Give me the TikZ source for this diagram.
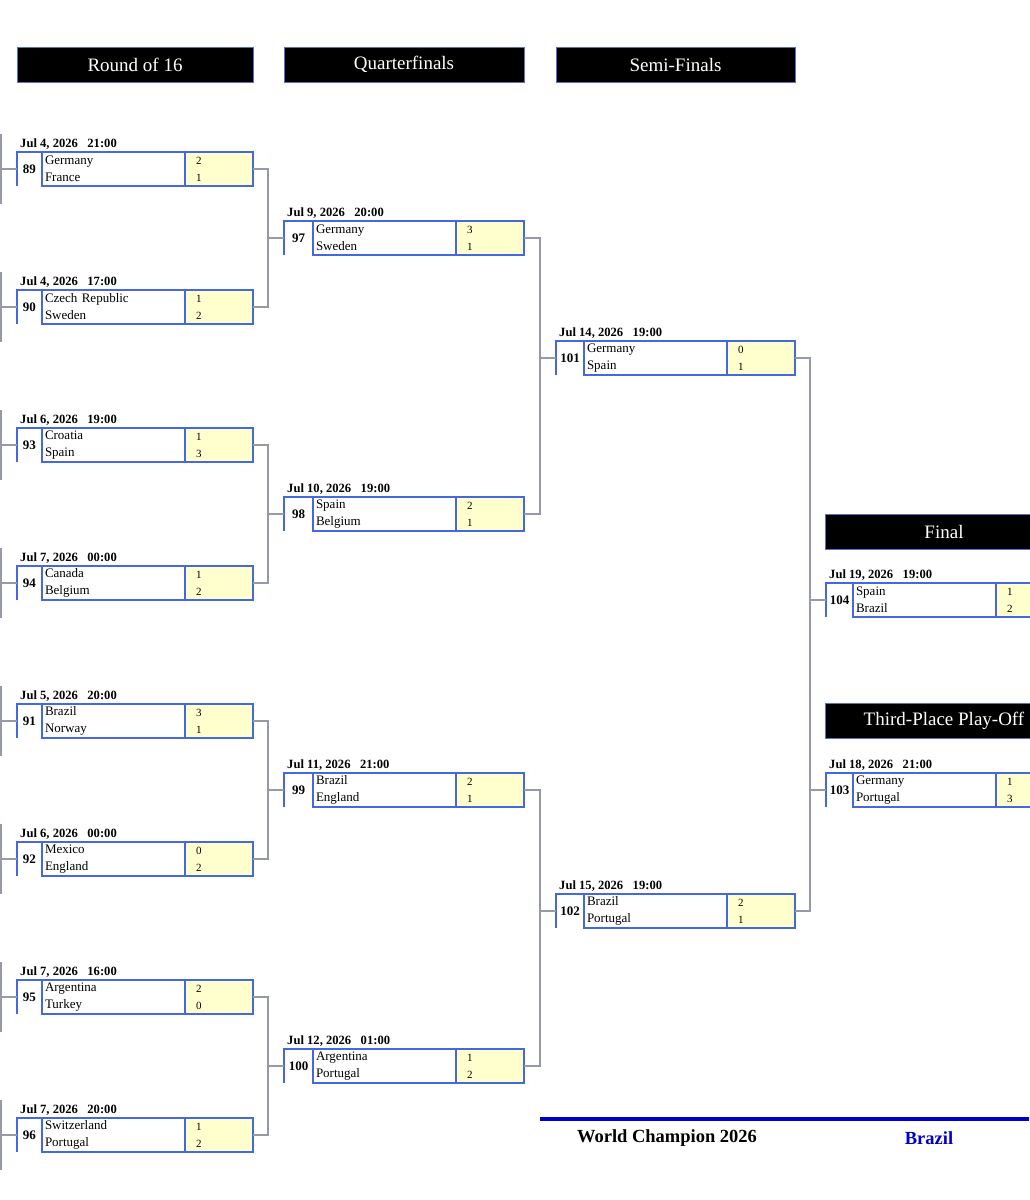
\documentclass[tikz,border=0pt]{standalone}
\usepackage{fontspec}
\setmainfont{Liberation Serif}
\usepackage{tikz}
\usetikzlibrary{positioning}

\definecolor{boxblue}{RGB}{70,104,222}
\definecolor{scoreyellow}{RGB}{255,255,206}
\definecolor{conngray}{RGB}{150,153,166}
\definecolor{champblue}{RGB}{0,0,205}

\tikzset{
  numbox/.style={minimum height=34pt, inner sep=0pt, outer sep=0pt,
    font=\fontsize{13}{15}\selectfont\bfseries},
  teambox/.style={draw=boxblue, line width=1.6pt, minimum height=34pt, text width=137pt,
    inner xsep=3pt, inner ysep=0pt, outer sep=0pt, align=left,
    font=\fontsize{13}{17}\selectfont},
  scorebox/.style={teambox, fill=scoreyellow, text width=46pt, inner xsep=11pt,
    font=\fontsize{11}{17}\selectfont},
  boxline/.style={draw=boxblue, line width=1.6pt},
  datelbl/.style={inner sep=0pt, font=\fontsize{12.6}{15}\selectfont\bfseries},
  conn/.style={draw=conngray, line width=1.8pt},
  roundhdr/.style={fill=black, draw={rgb,255:red,90;green,110;blue,200}, line width=0.6pt,
    text=white, minimum width=236pt, minimum height=35pt, inner sep=0pt,
    font=\fontsize{19}{21}\selectfont},
  champ/.style={font=\fontsize{18.5}{20}\selectfont\bfseries}
}

% #1 match, #2 left x, #3 team box x, #4 centre y, #5 date, #6/#7 teams, #8/#9 goals
\newcommand{\matchbox}[9]{%
  \node[numbox, minimum width={#3pt-#2pt}] (n#1) at ({(#2+#3)/2},#4) {#1};
  \node[teambox, right=0pt of n#1] (t#1) {#6\\#7};
  \node[scorebox, right=0pt of t#1] (s#1) {#8\\#9};
  \draw[boxline] (n#1.south west) -- (n#1.north west) -- (n#1.north east);
  \node[datelbl, anchor=base west, xshift=3pt, yshift=5pt] (d#1) at (n#1.north west) {#5};
}

\begin{document}
\begin{tikzpicture}[x=1pt, y=-1pt]
\path[use as bounding box, fill=white] (0,0) rectangle (1029,1200);

\node[roundhdr] (h16) at (135,64.5) {Round of 16};
\node[roundhdr, minimum width=240pt] (hqf) at (404,64.5) {Quarterfinals};
\node[roundhdr, minimum width=239pt] (hsf) at (675.5,64.5) {Semi-Finals};
\node[roundhdr, minimum width=238pt] (hfin) at (944,532) {Final};
\node[roundhdr, minimum width=238pt] (hthird) at (944,721) {Third-Place Play-Off};

\matchbox{89}{17}{42}{169}{Jul 4, 2026~~~21:00}{Germany}{France}{2}{1}
\matchbox{90}{17}{42}{307}{Jul 4, 2026~~~17:00}{Czech Republic}{Sweden}{1}{2}
\matchbox{93}{17}{42}{445}{Jul 6, 2026~~~19:00}{Croatia}{Spain}{1}{3}
\matchbox{94}{17}{42}{583}{Jul 7, 2026~~~00:00}{Canada}{Belgium}{1}{2}
\matchbox{91}{17}{42}{721}{Jul 5, 2026~~~20:00}{Brazil}{Norway}{3}{1}
\matchbox{92}{17}{42}{859}{Jul 6, 2026~~~00:00}{Mexico}{England}{0}{2}
\matchbox{95}{17}{42}{997}{Jul 7, 2026~~~16:00}{Argentina}{Turkey}{2}{0}
\matchbox{96}{17}{42}{1135}{Jul 7, 2026~~~20:00}{Switzerland}{Portugal}{1}{2}

\matchbox{97}{284}{313}{238}{Jul 9, 2026~~~20:00}{Germany}{Sweden}{3}{1}
\matchbox{98}{284}{313}{514}{Jul 10, 2026~~~19:00}{Spain}{Belgium}{2}{1}
\matchbox{99}{284}{313}{790}{Jul 11, 2026~~~21:00}{Brazil}{England}{2}{1}
\matchbox{100}{284}{313}{1066}{Jul 12, 2026~~~01:00}{Argentina}{Portugal}{1}{2}

\matchbox{101}{556}{584}{358}{Jul 14, 2026~~~19:00}{Germany}{Spain}{0}{1}
\matchbox{102}{556}{584}{911}{Jul 15, 2026~~~19:00}{Brazil}{Portugal}{2}{1}

\matchbox{104}{826}{853}{600}{Jul 19, 2026~~~19:00}{Spain}{Brazil}{1}{2}
\matchbox{103}{826}{853}{790}{Jul 18, 2026~~~21:00}{Germany}{Portugal}{1}{3}

% round of 32 (cut off at the left)
\foreach \m in {89,90,93,94,91,92,95,96}
  \draw[conn] (n\m.west) -- ++(-16,0) ++(0,-35) -- ++(0,70);

\coordinate (j97) at (268,238);
\coordinate (j98) at (268,514);
\coordinate (j99) at (268,790);
\coordinate (j100) at (268,1066);
\coordinate (j101) at (540,358);
\coordinate (j102) at (540,911);
\coordinate (j104) at (810,600);
\coordinate (j103) at (810,790);

\draw[conn] (s89.east) -| (j97) |- (s90.east);
\draw[conn] (j97) -- (n97.west);
\draw[conn] (s93.east) -| (j98) |- (s94.east);
\draw[conn] (j98) -- (n98.west);
\draw[conn] (s91.east) -| (j99) |- (s92.east);
\draw[conn] (j99) -- (n99.west);
\draw[conn] (s95.east) -| (j100) |- (s96.east);
\draw[conn] (j100) -- (n100.west);

\draw[conn] (s97.east) -| (j101) |- (s98.east);
\draw[conn] (j101) -- (n101.west);
\draw[conn] (s99.east) -| (j102) |- (s100.east);
\draw[conn] (j102) -- (n102.west);

\draw[conn] (s101.east) -| (j104) -- (j103) |- (s102.east);
\draw[conn] (j104) -- (n104.west);
\draw[conn] (j103) -- (n103.west);

\draw[draw=champblue, line width=3.5pt] (540,1119) -- (1029,1119);
\node[champ] (wc) at (667,1138) {World Champion 2026};
\node[champ, text=champblue] (wcteam) at (929,1138) {Brazil};
\end{tikzpicture}
\end{document}
